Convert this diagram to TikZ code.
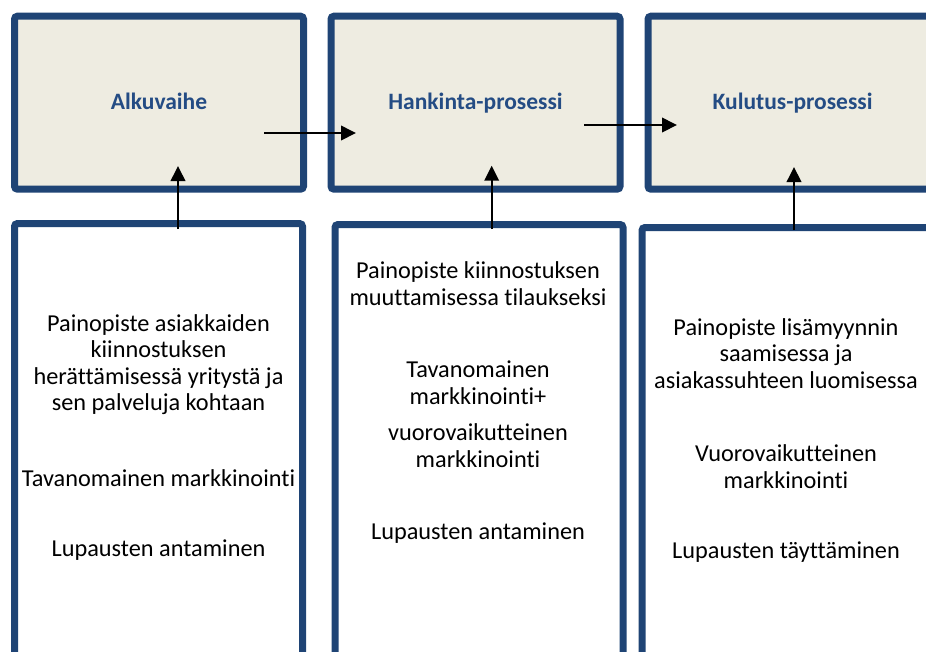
\documentclass[tikz,border=0pt]{standalone}
\usepackage{fontspec}
\setmainfont[Ligatures=CommonOff]{Carlito}
\usetikzlibrary{arrows.meta, positioning, shadows}

\definecolor{frameblue}{RGB}{31,68,117}
\definecolor{titleblue}{RGB}{36,76,132}
\definecolor{phasefill}{RGB}{238,236,225}

\begin{document}
\begin{tikzpicture}[x=1pt, y=-1pt,
  phase/.style={draw=frameblue, line width=7pt, fill=phasefill, rounded corners=3pt,
                minimum width=289pt, minimum height=173pt, inner sep=0pt,
                text height=18.5pt, text depth=5pt,
                font=\fontsize{23.5}{26}\selectfont\bfseries, text=titleblue,
                drop shadow={shadow xshift=1.5pt, shadow yshift=-2.5pt, opacity=0.25}},
  focus/.style={draw=frameblue, line width=7pt, fill=white, rounded corners=3pt,
                minimum width=288pt, minimum height=460pt, inner sep=0pt,
                drop shadow={shadow xshift=1.5pt, shadow yshift=-2.5pt, opacity=0.25}},
  para/.style={align=center, inner sep=0pt, font=\fontsize{24.3}{26.5}\selectfont},
  flow/.style={line width=2pt, -{Triangle[length=15pt, width=14.5pt]}}
]
  \useasboundingbox (0,0) rectangle (926,651);
  \clip (0,0) rectangle (926,651);

  % Phase boxes (top row)
  \node[phase] (top1) at (159, 102.7)   {Alkuvaihe};
  \node[phase] (top2) at (475.5, 102.7) {Hankinta-prosessi};
  \node[phase] (top3) at (792.5, 102.7) {Kulutus-prosessi};

  % Focus boxes (bottom row, cut off by the page)
  \node[focus] (bot1) at (158.5, 453.5) {};
  \node[focus] (bot2) at (479, 454.5)   {};
  \node[focus] (bot3) at (786, 457.5)   {};

  % Texts of the focus boxes
  \node[para] (p11) at (158.5, 364.5) {Painopiste asiakkaiden\\kiinnostuksen\\herättämisessä yritystä ja\\sen palveluja kohtaan};
  \node[para] (p12) at (158.5, 478)   {Tavanomainen markkinointi};
  \node[para] (p13) at (158.5, 550)   {Lupausten antaminen};

  \node[para] (p21) at (478, 283.5) {Painopiste kiinnostuksen\\muuttamisessa tilaukseksi};
  \node[para] (p22) at (478, 382.5) {Tavanomainen\\markkinointi+};
  \node[para] (p23) at (478, 445.5) {vuorovaikutteinen\\markkinointi};
  \node[para] (p24) at (478, 533)   {Lupausten antaminen};

  \node[para] (p31) at (786, 353.5) {Painopiste lisämyynnin\\saamisessa ja\\asiakassuhteen luomisessa};
  \node[para] (p32) at (786, 466.5) {Vuorovaikutteinen\\markkinointi};
  \node[para] (p33) at (786, 552)   {Lupausten täyttäminen};

  % Arrows between the phases
  \draw[flow] ([shift={(-43,30.3)}]top1.east) -- ([shift={(28.5,30.3)}]top2.west);
  \draw[flow] ([shift={(-39.5,22.3)}]top2.east) -- ([shift={(32.5,22.3)}]top3.west);

  % Arrows from the focus boxes up to the phases
  \draw[flow] ([shift={(19.5,9)}]bot1.north) -- ([shift={(19,-26.7)}]top1.south);
  \draw[flow] ([shift={(12.7,8)}]bot2.north) -- ([shift={(16.2,-27)}]top2.south);
  \draw[flow] ([shift={(8,6)}]bot3.north)    -- ([shift={(1.5,-25.7)}]top3.south);
\end{tikzpicture}
\end{document}
